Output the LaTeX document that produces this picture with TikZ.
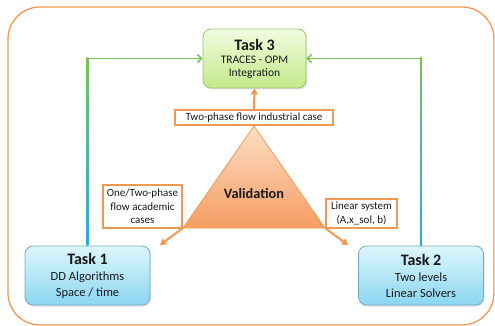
\documentclass[tikz,border=0pt]{standalone}
\usepackage{fontspec}
\setmainfont{Carlito}
\usetikzlibrary{arrows.meta,shadows,calc}
\definecolor{orangeline}{RGB}{240,152,85}
\definecolor{triatop}{RGB}{252,222,198}
\definecolor{triabot}{RGB}{245,158,98}
\definecolor{bluetop}{RGB}{222,246,253}
\definecolor{bluebot}{RGB}{138,214,241}
\definecolor{blueline}{RGB}{118,170,196}
\definecolor{greentop}{RGB}{242,251,224}
\definecolor{greenbot}{RGB}{194,234,138}
\definecolor{greenline}{RGB}{160,192,118}
\definecolor{linkgreen}{RGB}{122,196,84}
\definecolor{linkblue}{RGB}{38,170,222}
\definecolor{textdark}{RGB}{25,25,25}
\begin{document}
\begin{tikzpicture}[x=1pt,y=-1pt,
  task/.style={draw=blueline, line width=0.8pt, rounded corners=8pt,
    top color=bluetop, bottom color=bluebot, minimum width=125pt,
    minimum height=59pt, align=center, text=textdark,
    font=\fontsize{12.5}{15.5}\selectfont,
    drop shadow={opacity=0.25, shadow xshift=1pt, shadow yshift=-1.5pt}},
  tasktop/.style={task, draw=greenline, top color=greentop,
    bottom color=greenbot, minimum width=103pt,
    font=\fontsize{11.5}{12.5}\selectfont},
  casebox/.style={draw=orangeline, line width=1.4pt, fill=white,
    align=center, inner sep=1pt, text=textdark,
    font=\fontsize{11}{13.3}\selectfont},
  link/.style={linkgreen, line width=1.6pt,
    -{Straight Barb[length=4pt,width=8pt,line width=1.6pt]}},
  feed/.style={orangeline, line width=2pt,
    -{Triangle[length=6pt,width=7pt]}}]
\clip (0,0) rectangle (495,326);
% outer frame
\draw[orangeline, line width=1.3pt, rounded corners=32pt] (8,7) rectangle (494,325);

% tasks
\node[tasktop] (t3) at (254.5,58.5) {{\fontsize{16}{18}\selectfont\bfseries Task 3}\\[1pt] TRACES - OPM\\ Integration};
\node[task] (t1) at (87.5,275.5) {{\fontsize{16}{18}\selectfont\bfseries Task 1}\\[1pt] DD Algorithms\\ Space / time};
\node[task] (t2) at (421,275.5) {{\fontsize{16}{18}\selectfont\bfseries Task 2}\\[1pt] Two levels\\ Linear Solvers};

% links to task 3
\draw[link] (t1.north) |- (t3.west);
\draw[link] (t2.north) |- (t3.east);
\shade[bottom color=linkblue, top color=linkgreen] ($(t1.north)+(-0.8,0)$) rectangle ($(t1.north |- t3.west)+(0.8,-1)$);
\shade[bottom color=linkblue, top color=linkgreen] ($(t2.north)+(-0.8,0)$) rectangle ($(t2.north |- t3.east)+(0.8,-1)$);

% validation triangle
\coordinate (apex) at (254,126);
\coordinate (tl) at (183,228);
\coordinate (tr) at (325,228);
\shadedraw[top color=triatop, bottom color=triabot, draw=orangeline, line width=0.8pt] (apex) -- (tl) -- (tr) -- cycle;
\node[font=\fontsize{14.3}{16}\selectfont\bfseries, text=textdark] (val) at (254,194) {Validation};

% outputs
\coordinate (o1) at (160,245);
\coordinate (o2) at (348,245);
\draw[feed] (tl) -- (o1);
\draw[feed] (tr) -- (o2);

\node[casebox, minimum width=158pt, minimum height=15pt] (ind) at (254,117.5) {Two-phase flow industrial case};
\draw[feed] (ind.north) -- (t3.south);
\node[casebox, minimum width=79pt, minimum height=43pt] (aca) at (142.5,206.5) {One/Two-phase\\ flow academic\\ cases};
\node[casebox, minimum width=71pt, minimum height=29pt] (lin) at (361.5,213.5) {Linear system\\ (A,x\_sol, b)};
\end{tikzpicture}
\end{document}
